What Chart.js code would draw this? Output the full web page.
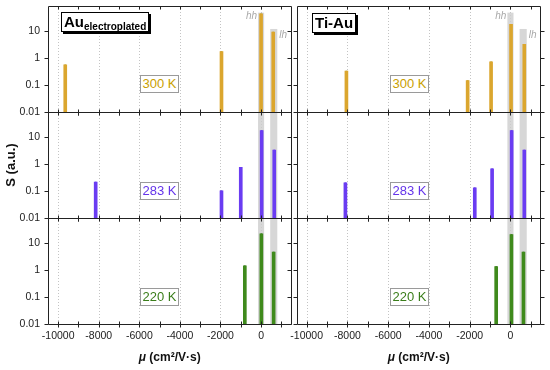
<!DOCTYPE html>
<html><head><meta charset="utf-8">
<script src="https://cdn.jsdelivr.net/npm/chart.js@4/dist/chart.umd.min.js"></script>
<style>
html,body{margin:0;padding:0;background:#fff;}
#wrap{position:relative;width:550px;height:370px;overflow:hidden;font-family:"Liberation Sans",Arial,sans-serif;}
canvas{position:absolute;left:0;top:0;}
.tbox{position:absolute;background:#fff;border:1px solid #000;box-shadow:2px 2px 0 #000;font-weight:bold;font-size:15px;line-height:18px;padding:0 2px;white-space:nowrap;color:#000;}
.tbox sub{font-size:10px;vertical-align:-3px;line-height:0;}
.klab{position:absolute;border:1px solid #9a9a9a;background:#fff;font-size:13px;line-height:16px;width:37px;text-align:center;}
.xt{position:absolute;font-weight:bold;font-size:12px;line-height:14px;white-space:nowrap;color:#111;transform:translateX(-50%);}
</style></head>
<body><div id="wrap"></div>
<script>
// ---------- data ----------
const temps = ['300 K', '283 K', '220 K'];
const samples = ['Au', 'Ti-Au'];
const xMajorTicks = [-10000, -8000, -6000, -4000, -2000, 0];
const xMinorTicks = [-10000, -9000, -8000, -7000, -6000, -5000, -4000, -3000, -2000, -1000, 0, 1000];
const yTickVals = [0.01, 0.1, 1, 10];
// Au electroplated
const au300Mu = [-9650, -1950, 0, 600];
const au300S  = [0.55, 1.7, 42, 8.9];
const au283Mu = [-8150, -1950, -1000, 30, 650];
const au283S  = [0.21, 0.1, 0.74, 16.6, 3.2];
const au220Mu = [-800, 15, 620];
const au220S  = [1.4, 21, 4.5];
// Ti-Au
const ti300Mu = [-8050, -2100, -950, 30, 680];
const ti300S  = [0.32, 0.145, 0.71, 17, 3.1];
const ti283Mu = [-8100, -1750, -900, 60, 680];
const ti283S  = [0.2, 0.13, 0.65, 16.7, 3.2];
const ti220Mu = [-700, 50, 640];
const ti220S  = [1.3, 20, 4.5];
// hh / lh bands (mobility ranges) and their heights in the top row
const hhBand = [-150, 150];
const lhBand = [450, 800];
const hhBandTop = 46;
const lhBandTop = 11.5;

// ---------- style / layout ----------
const X_MIN = -10500, X_MAX = 1500, Y_MIN = 0.01, Y_MAX = 81;
const rowTop = [6, 112, 218], rowBot = [112, 218, 324];
const colLeft = [48, 296.5], colRight = [291.5, 541];
const outerCol = ['#dba62e', '#6a3cf2', '#3f8a1c'];
const innerCol = ['#a99b1c', '#4620d4', '#245a0c'];
const textCol  = ['#c9a000', '#6434ea', '#3a7d1a'];
const FONT = '"Liberation Sans", Arial, sans-serif';

const panels = [
  {col:0,row:0,mu:au300Mu,s:au300S},{col:0,row:1,mu:au283Mu,s:au283S},{col:0,row:2,mu:au220Mu,s:au220S},
  {col:1,row:0,mu:ti300Mu,s:ti300S},{col:1,row:1,mu:ti283Mu,s:ti283S},{col:1,row:2,mu:ti220Mu,s:ti220S}
];

const decor = {
  id: 'decor',
  beforeDatasetsDraw(chart, args, o) {
    const {ctx, chartArea: a, scales: {x, y}} = chart;
    ctx.save();
    ctx.beginPath(); ctx.rect(a.left, a.top, a.right - a.left, a.bottom - a.top); ctx.clip();
    ctx.strokeStyle = '#c4c4c4'; ctx.lineWidth = 1; ctx.setLineDash([1, 2]);
    xMajorTicks.forEach(v => {
      const px = Math.round(x.getPixelForValue(v)) + 0.5;
      ctx.beginPath(); ctx.moveTo(px, a.top); ctx.lineTo(px, a.bottom); ctx.stroke();
    });
    ctx.setLineDash([]);
    ctx.fillStyle = 'rgba(205,205,205,0.8)';
    [[hhBand, hhBandTop], [lhBand, lhBandTop]].forEach(([b, t]) => {
      const x0 = x.getPixelForValue(b[0]), x1 = x.getPixelForValue(b[1]);
      const top = o.row === 0 ? y.getPixelForValue(t) : a.top;
      ctx.fillRect(x0, top, x1 - x0, a.bottom - top);
    });
    ctx.restore();
  },
  afterDatasetsDraw(chart, args, o) {
    const {ctx, chartArea: a, scales: {x, y}} = chart;
    ctx.save();
    ctx.strokeStyle = '#222'; ctx.lineWidth = 1;
    const L = Math.round(a.left) + 0.5, R = Math.round(a.right) - 0.5;
    const T = Math.round(a.top) + 0.5, B = Math.round(a.bottom) + 0.5;
    ctx.beginPath();
    ctx.moveTo(L, T); ctx.lineTo(R, T); ctx.lineTo(R, B); ctx.lineTo(L, B); ctx.closePath();
    xMinorTicks.forEach(v => {
      const px = Math.round(x.getPixelForValue(v)) + 0.5;
      ctx.moveTo(px, B - 3); ctx.lineTo(px, B + 3);
      ctx.moveTo(px, T); ctx.lineTo(px, T + 3);
    });
    yTickVals.forEach(v => {
      const py = Math.round(y.getPixelForValue(v)) + 0.5;
      ctx.moveTo(L - 4, py); ctx.lineTo(L, py);
      if (o.col === 0) { ctx.moveTo(R - 4, py); ctx.lineTo(R, py); }
      else { ctx.moveTo(R, py); ctx.lineTo(R + 4, py); }
    });
    ctx.stroke();
    if (o.row === 0) {
      ctx.fillStyle = '#a8a8a8';
      ctx.font = 'italic 10px ' + FONT;
      ctx.textBaseline = 'middle';
      ctx.textAlign = 'right';
      ctx.fillText('hh', x.getPixelForValue(hhBand[0]) - 1, y.getPixelForValue(hhBandTop) + 4);
      ctx.textAlign = 'left';
      ctx.fillText('lh', x.getPixelForValue(lhBand[1]) + 2, y.getPixelForValue(lhBandTop) + 6);
    }
    ctx.restore();
  }
};

const wrap = document.getElementById('wrap');
panels.forEach(p => {
  const cv = document.createElement('canvas');
  cv.width = 550; cv.height = 370;
  wrap.appendChild(cv);
  const bottomRow = p.row === 2, leftCol = p.col === 0;
  const wY = leftCol ? 48 : 0;
  const hX = bottomRow ? 40 : 0;
  const pts = p.mu.map((m, i) => ({x: m, y: [Y_MIN, p.s[i]]}));
  new Chart(cv, {
    type: 'bar',
    data: {datasets: [
      {data: pts, backgroundColor: outerCol[p.row], barThickness: 3, borderWidth: 0, grouped: false},
      {data: pts, backgroundColor: innerCol[p.row], barThickness: 1, borderWidth: 0, grouped: false}
    ]},
    plugins: [decor],
    options: {
      responsive: false, animation: false, devicePixelRatio: 1,
      layout: {padding: {left: colLeft[p.col] - wY, right: 550 - colRight[p.col], top: rowTop[p.row], bottom: 370 - rowBot[p.row] - hX}},
      plugins: {legend: {display: false}, tooltip: {enabled: false}, decor: {row: p.row, col: p.col}},
      scales: {
        x: {
          type: 'linear', min: X_MIN, max: X_MAX, offset: false,
          grid: {display: false, drawTicks: false}, border: {display: false},
          ticks: {display: bottomRow, padding: 6, color: '#222', font: {family: FONT, size: 10.5}, maxRotation: 0, autoSkip: false, callback: v => String(v)},
          afterBuildTicks: s => { s.ticks = xMajorTicks.map(v => ({value: v})); },
          afterFit: s => { s.height = hX; s.paddingLeft = 0; s.paddingRight = 0; s.paddingTop = 0; s.paddingBottom = 0; }
        },
        y: {
          type: 'logarithmic', min: Y_MIN, max: Y_MAX,
          grid: {display: false, drawTicks: false}, border: {display: false},
          ticks: {display: leftCol, padding: 8, color: '#222', font: {family: FONT, size: 10.5}, autoSkip: false, callback: v => String(v)},
          title: {display: leftCol && p.row === 1, text: 'S (a.u.)', color: '#111', font: {family: FONT, size: 13, weight: 'bold'}, padding: {top: 4, bottom: 0}},
          afterBuildTicks: s => { s.ticks = yTickVals.map(v => ({value: v})); },
          afterFit: s => { s.width = wY; s.paddingLeft = 0; s.paddingRight = 0; s.paddingTop = 0; s.paddingBottom = 0; }
        }
      }
    }
  });
});

// ---------- text overlays ----------
function addDiv(cls, html, css) {
  const d = document.createElement('div');
  d.className = cls; d.innerHTML = html;
  Object.assign(d.style, css);
  wrap.appendChild(d);
}
addDiv('tbox', samples[0] + '<sub>electroplated</sub>', {left: '61px', top: '12px'});
addDiv('tbox', samples[1], {left: '312px', top: '13px'});
const kLeft = [140, 390], kTop = [75, 182, 288];
for (let c = 0; c < 2; c++) for (let r = 0; r < 3; r++) {
  addDiv('klab', temps[r], {left: kLeft[c] + 'px', top: kTop[r] + 'px', color: textCol[r]});
}
addDiv('xt', '<i>μ</i> (cm²/V·s)', {left: ((colLeft[0] + colRight[0]) / 2) + 'px', top: '350px'});
addDiv('xt', '<i>μ</i> (cm²/V·s)', {left: ((colLeft[1] + colRight[1]) / 2) + 'px', top: '350px'});
</script>
</body></html>
